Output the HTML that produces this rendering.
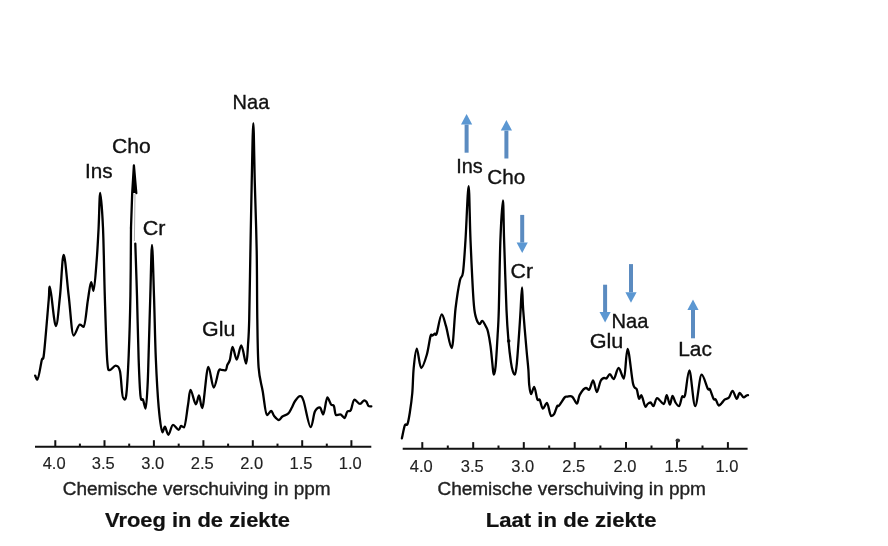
<!DOCTYPE html>
<html><head><meta charset="utf-8"><style>
html,body{margin:0;padding:0;background:#fff;}
body{width:888px;height:546px;overflow:hidden;}
svg{display:block;will-change:transform;}
</style></head><body>
<svg width="888" height="546" viewBox="0 0 888 546">
<rect width="888" height="546" fill="#fff"/>
<path d="M35.20,375.60 C35.58,376.28 36.40,379.70 37.50,379.70 C38.60,379.70 40.72,364.37 41.80,360.00 C42.88,355.63 42.85,363.50 44.00,353.50 C45.15,343.50 47.72,311.13 48.70,300.00 C49.68,288.87 48.72,286.70 49.90,286.70 C51.08,286.70 54.12,326.00 55.80,326.00 C57.48,326.00 58.68,307.87 60.00,296.00 C61.32,284.13 62.25,254.80 63.70,254.80 C65.15,254.80 67.05,282.55 68.70,296.00 C70.35,309.45 71.75,335.50 73.60,335.50 C75.45,335.50 78.10,324.70 79.80,324.70 C81.50,324.70 82.45,326.80 83.80,326.80 C85.15,326.80 86.68,307.43 87.90,300.00 C89.12,292.57 90.15,282.20 91.10,282.20 C92.05,282.20 92.67,290.90 93.60,290.90 C94.53,290.90 95.87,270.48 96.70,260.00 C97.53,249.52 98.02,239.17 98.60,228.00 C99.18,216.83 99.47,193.00 100.20,193.00 C100.93,193.00 102.23,210.83 103.00,228.00 C103.77,245.17 104.10,274.00 104.80,296.00 C105.50,318.00 106.33,347.67 107.20,360.00 C108.07,372.33 108.60,370.00 110.00,370.00 C111.40,370.00 113.93,365.60 115.60,365.60 C117.27,365.60 118.77,365.80 120.00,371.20 C121.23,376.60 121.97,398.00 123.00,398.00 C124.03,398.00 125.25,402.67 126.20,395.50 C127.15,388.33 128.00,371.58 128.70,355.00 C129.40,338.42 130.02,317.17 130.40,296.00 C130.78,274.83 130.90,239.33 131.00,228.00" stroke="#000" stroke-width="2.3" fill="none" stroke-linejoin="round" stroke-linecap="round"/>
<path d="M132.2,193 L133.9,165.5 L136.3,193 Z" stroke="none" fill="#000"/>
<path d="M131,228 L132.2,193 L133.9,165.5 L136.3,193" stroke="#000" stroke-width="2.3" fill="none" stroke-linejoin="round" stroke-linecap="round"/>
<path d="M135.0,194 L134.4,241" stroke="#aaa" stroke-width="1" fill="none"/>
<path d="M135.30,243.60 C135.58,252.33 136.45,276.93 137.00,296.00 C137.55,315.07 138.02,341.33 138.60,358.00 C139.18,374.67 139.77,389.03 140.50,396.00 C141.23,402.97 142.13,397.72 143.00,399.80 C143.87,401.88 144.93,408.50 145.70,408.50 C146.47,408.50 147.12,393.92 147.60,385.00 C148.08,376.08 148.15,369.83 148.60,355.00 C149.05,340.17 149.73,314.33 150.30,296.00 C150.87,277.67 151.38,245.00 152.00,245.00 C152.62,245.00 153.37,277.17 154.00,296.00 C154.63,314.83 155.02,339.43 155.80,358.00 C156.58,376.57 157.60,395.02 158.70,407.40 C159.80,419.78 161.37,432.30 162.40,432.30 C163.43,432.30 163.90,426.70 164.90,426.70 C165.90,426.70 167.05,434.80 168.40,434.80 C169.75,434.80 171.30,424.80 173.00,424.80 C174.70,424.80 177.25,429.80 178.60,429.80 C179.95,429.80 180.17,426.00 181.10,426.00 C182.03,426.00 183.05,427.30 184.20,427.30 C185.35,427.30 186.93,411.25 188.00,405.00 C189.07,398.75 189.30,389.80 190.60,389.80 C191.90,389.80 194.40,404.30 195.80,404.30 C197.20,404.30 197.92,395.50 199.00,395.50 C200.08,395.50 200.75,408.00 202.30,408.00 C203.85,408.00 206.40,366.80 208.30,366.80 C210.20,366.80 211.97,387.50 213.70,387.50 C215.43,387.50 217.45,373.95 218.70,371.00 C219.95,368.05 220.07,369.80 221.20,369.80 C222.33,369.80 224.47,370.40 225.50,370.40 C226.53,370.40 226.67,366.55 227.40,364.80 C228.13,363.05 229.03,362.90 229.90,359.90 C230.77,356.90 231.47,346.80 232.60,346.80 C233.73,346.80 235.25,359.60 236.70,359.60 C238.15,359.60 239.73,345.50 241.30,345.50 C242.87,345.50 244.98,363.60 246.10,363.60 C247.22,363.60 247.48,352.27 248.00,345.00 C248.52,337.73 248.80,335.67 249.20,320.00 C249.60,304.33 249.98,273.83 250.40,251.00 C250.82,228.17 251.22,204.32 251.70,183.00 C252.18,161.68 252.78,123.10 253.30,123.10 C253.82,123.10 254.23,161.68 254.80,183.00 C255.37,204.32 256.28,228.33 256.70,251.00 C257.12,273.67 256.98,299.62 257.30,319.00 C257.62,338.38 257.70,355.27 258.60,367.30 C259.50,379.33 261.32,383.23 262.70,391.20 C264.08,399.17 265.48,415.10 266.90,415.10 C268.32,415.10 270.02,410.90 271.20,410.90 C272.38,410.90 272.72,414.28 274.00,415.80 C275.28,417.32 277.50,420.00 278.90,420.00 C280.30,420.00 280.87,417.55 282.40,416.50 C283.93,415.45 286.57,415.12 288.10,413.70 C289.63,412.28 290.43,410.12 291.60,408.00 C292.77,405.88 293.70,402.98 295.10,401.00 C296.50,399.02 298.58,396.10 300.00,396.10 C301.42,396.10 301.83,395.83 303.60,401.00 C305.37,406.17 308.72,427.10 310.60,427.10 C312.48,427.10 313.37,414.88 314.90,411.60 C316.43,408.32 318.40,407.40 319.80,407.40 C321.20,407.40 322.05,414.40 323.30,414.40 C324.55,414.40 326.00,397.50 327.30,397.50 C328.60,397.50 330.00,403.18 331.10,404.60 C332.20,406.02 333.08,404.25 333.90,406.00 C334.72,407.75 334.93,415.10 336.00,415.10 C337.07,415.10 338.88,414.40 340.30,414.40 C341.72,414.40 343.33,418.00 344.50,418.00 C345.67,418.00 346.25,412.90 347.30,411.60 C348.35,410.30 349.62,412.20 350.80,410.20 C351.98,408.20 352.87,399.60 354.40,399.60 C355.93,399.60 358.37,403.90 360.00,403.90 C361.63,403.90 363.13,400.30 364.20,400.30 C365.27,400.30 365.68,400.75 366.40,401.70 C367.12,402.65 367.68,405.22 368.50,406.00 C369.32,406.78 370.83,406.33 371.30,406.40" stroke="#000" stroke-width="2.3" fill="none" stroke-linejoin="round" stroke-linecap="round"/>
<circle cx="508.7" cy="341" r="1.8" fill="#222"/>
<ellipse cx="677.8" cy="440.5" rx="2.3" ry="2" fill="#333"/>
<path d="M401.90,438.30 C402.40,436.10 403.98,427.43 404.90,425.10 C405.82,422.77 406.58,426.37 407.40,424.30 C408.22,422.23 408.98,417.92 409.80,412.70 C410.62,407.48 411.65,400.45 412.30,393.00 C412.95,385.55 412.95,375.40 413.70,368.00 C414.45,360.60 415.55,348.60 416.80,348.60 C418.05,348.60 419.53,368.00 421.20,368.00 C422.87,368.00 425.25,360.12 426.80,354.80 C428.35,349.48 429.57,339.32 430.50,336.10 C431.43,332.88 431.67,335.92 432.40,335.50 C433.13,335.08 434.18,333.92 434.90,333.60 C435.62,333.28 435.57,336.82 436.70,333.60 C437.83,330.38 440.15,314.30 441.70,314.30 C443.25,314.30 444.33,320.58 446.00,326.20 C447.67,331.82 450.10,348.00 451.70,348.00 C453.30,348.00 454.23,319.25 455.60,308.00 C456.97,296.75 458.67,286.43 459.90,280.50 C461.13,274.57 462.07,279.15 463.00,272.40 C463.93,265.65 464.57,254.37 465.50,240.00 C466.43,225.63 467.77,186.20 468.60,186.20 C469.43,186.20 469.68,221.03 470.50,240.00 C471.32,258.97 472.62,287.17 473.50,300.00 C474.38,312.83 474.78,312.98 475.80,317.00 C476.82,321.02 478.53,324.10 479.60,324.10 C480.67,324.10 481.13,320.90 482.20,320.90 C483.27,320.90 485.03,324.88 486.00,326.70 C486.97,328.52 487.25,328.60 488.00,331.80 C488.75,335.00 489.77,340.57 490.50,345.90 C491.23,351.23 491.87,359.00 492.40,363.80 C492.93,368.60 493.17,374.70 493.70,374.70 C494.23,374.70 494.95,372.92 495.60,366.40 C496.25,359.88 497.07,345.00 497.60,335.60 C498.13,326.20 498.33,325.93 498.80,310.00 C499.27,294.07 499.72,258.25 500.40,240.00 C501.08,221.75 502.28,200.50 502.90,200.50 C503.52,200.50 503.50,221.75 504.10,240.00 C504.70,258.25 505.77,293.20 506.50,310.00 C507.23,326.80 507.75,332.03 508.50,340.80 C509.25,349.57 510.27,357.48 511.00,362.60 C511.73,367.72 512.25,369.48 512.90,371.50 C513.55,373.52 514.25,374.70 514.90,374.70 C515.55,374.70 516.05,371.38 516.80,363.80 C517.55,356.22 518.77,338.17 519.40,329.20 C520.03,320.23 520.17,316.98 520.60,310.00 C521.03,303.02 521.57,287.30 522.00,287.30 C522.43,287.30 522.47,299.80 523.20,310.00 C523.93,320.20 525.53,338.50 526.40,348.50 C527.27,358.50 527.93,363.93 528.40,370.00 C528.87,376.07 528.75,380.87 529.20,384.90 C529.65,388.93 530.27,394.20 531.10,394.20 C531.93,394.20 533.17,386.80 534.20,386.80 C535.23,386.80 536.37,397.02 537.30,399.20 C538.23,401.38 538.87,398.33 539.80,399.90 C540.73,401.47 541.70,408.60 542.90,408.60 C544.10,408.60 545.65,403.00 547.00,403.00 C548.35,403.00 549.82,416.00 551.00,416.00 C552.18,416.00 553.07,415.85 554.10,414.20 C555.13,412.55 556.37,407.55 557.20,406.10 C558.03,404.65 557.85,406.95 559.10,405.50 C560.35,404.05 563.35,398.87 564.70,397.40 C566.05,395.93 565.95,396.82 567.20,396.70 C568.45,396.58 570.58,395.55 572.20,396.70 C573.82,397.85 575.65,403.60 576.90,403.60 C578.15,403.60 578.20,397.50 579.70,394.90 C581.20,392.30 584.35,388.00 585.90,388.00 C587.45,388.00 587.80,389.90 589.00,389.90 C590.20,389.90 591.80,380.50 593.10,380.50 C594.40,380.50 595.55,392.00 596.80,392.00 C598.05,392.00 599.35,383.33 600.60,381.00 C601.85,378.67 603.37,378.00 604.30,378.00 C605.23,378.00 605.27,378.60 606.20,378.60 C607.13,378.60 608.65,374.20 609.90,374.20 C611.15,374.20 612.25,379.20 613.70,379.20 C615.15,379.20 616.90,368.00 618.60,368.00 C620.30,368.00 622.40,378.60 623.90,378.60 C625.40,378.60 626.08,348.90 627.60,348.90 C629.12,348.90 631.48,376.78 633.00,383.50 C634.52,390.22 635.68,386.63 636.70,389.20 C637.72,391.77 638.32,398.90 639.10,398.90 C639.88,398.90 640.35,395.20 641.40,395.20 C642.45,395.20 644.37,406.90 645.40,406.90 C646.43,406.90 646.75,404.73 647.60,404.00 C648.45,403.27 649.52,402.50 650.50,402.50 C651.48,402.50 652.40,406.20 653.50,406.20 C654.60,406.20 655.40,398.10 657.10,398.10 C658.80,398.10 662.10,404.00 663.70,404.00 C665.30,404.00 665.67,395.20 666.70,395.20 C667.73,395.20 668.93,404.70 669.90,404.70 C670.87,404.70 671.57,395.90 672.50,395.90 C673.43,395.90 674.40,400.78 675.50,402.50 C676.60,404.22 678.00,406.20 679.10,406.20 C680.20,406.20 681.12,398.53 682.10,396.70 C683.08,394.87 683.78,399.58 685.00,395.20 C686.22,390.82 687.70,370.40 689.40,370.40 C691.10,370.40 693.17,406.20 695.20,406.20 C697.23,406.20 699.52,374.70 701.60,374.70 C703.68,374.70 706.32,386.17 707.70,388.60 C709.08,391.03 708.92,387.58 709.90,389.30 C710.88,391.02 712.62,397.18 713.60,398.90 C714.58,400.62 714.95,398.50 715.80,399.60 C716.65,400.70 717.73,405.50 718.70,405.50 C719.67,405.50 720.62,404.28 721.60,403.30 C722.58,402.32 723.37,400.58 724.60,399.60 C725.83,398.62 727.67,398.87 729.00,397.40 C730.33,395.93 731.32,390.80 732.60,390.80 C733.88,390.80 735.52,398.90 736.70,398.90 C737.88,398.90 738.55,393.00 739.70,393.00 C740.85,393.00 742.45,397.40 743.60,397.40 C744.75,397.40 745.87,395.87 746.60,395.50 C747.33,395.13 747.77,395.25 748.00,395.20" stroke="#000" stroke-width="2.3" fill="none" stroke-linejoin="round" stroke-linecap="round"/>
<path d="M35,446.8 H371.3" stroke="#111" stroke-width="2" fill="none"/><path d="M55.3,440.2 V446.8" stroke="#111" stroke-width="2" fill="none"/><path d="M104.5,440.2 V446.8" stroke="#111" stroke-width="2" fill="none"/><path d="M153.9,440.2 V446.8" stroke="#111" stroke-width="2" fill="none"/><path d="M203.4,440.2 V446.8" stroke="#111" stroke-width="2" fill="none"/><path d="M252.8,440.2 V446.8" stroke="#111" stroke-width="2" fill="none"/><path d="M302.2,440.2 V446.8" stroke="#111" stroke-width="2" fill="none"/><path d="M351.4,440.2 V446.8" stroke="#111" stroke-width="2" fill="none"/><path d="M79.9,443.6 V446.8" stroke="#111" stroke-width="2" fill="none"/><path d="M129.2,443.6 V446.8" stroke="#111" stroke-width="2" fill="none"/><path d="M178.7,443.6 V446.8" stroke="#111" stroke-width="2" fill="none"/><path d="M228.1,443.6 V446.8" stroke="#111" stroke-width="2" fill="none"/><path d="M277.5,443.6 V446.8" stroke="#111" stroke-width="2" fill="none"/><path d="M326.8,443.6 V446.8" stroke="#111" stroke-width="2" fill="none"/>
<path d="M402.7,448.7 H747.6" stroke="#111" stroke-width="2" fill="none"/><path d="M422.3,442.09999999999997 V448.7" stroke="#111" stroke-width="2" fill="none"/><path d="M473.2,442.09999999999997 V448.7" stroke="#111" stroke-width="2" fill="none"/><path d="M523.8,442.09999999999997 V448.7" stroke="#111" stroke-width="2" fill="none"/><path d="M574.7,442.09999999999997 V448.7" stroke="#111" stroke-width="2" fill="none"/><path d="M626.0,442.09999999999997 V448.7" stroke="#111" stroke-width="2" fill="none"/><path d="M677.0,442.09999999999997 V448.7" stroke="#111" stroke-width="2" fill="none"/><path d="M727.9,442.09999999999997 V448.7" stroke="#111" stroke-width="2" fill="none"/><path d="M447.8,445.5 V448.7" stroke="#111" stroke-width="2" fill="none"/><path d="M498.5,445.5 V448.7" stroke="#111" stroke-width="2" fill="none"/><path d="M549.2,445.5 V448.7" stroke="#111" stroke-width="2" fill="none"/><path d="M600.4,445.5 V448.7" stroke="#111" stroke-width="2" fill="none"/><path d="M651.5,445.5 V448.7" stroke="#111" stroke-width="2" fill="none"/><path d="M702.5,445.5 V448.7" stroke="#111" stroke-width="2" fill="none"/>
<text x="54.1" y="468.9" font-family="Liberation Sans, sans-serif" font-size="16.5" fill="#222" stroke="#222" stroke-width="0.15" text-anchor="middle">4.0</text>
<text x="103.3" y="468.9" font-family="Liberation Sans, sans-serif" font-size="16.5" fill="#222" stroke="#222" stroke-width="0.15" text-anchor="middle">3.5</text>
<text x="152.7" y="468.9" font-family="Liberation Sans, sans-serif" font-size="16.5" fill="#222" stroke="#222" stroke-width="0.15" text-anchor="middle">3.0</text>
<text x="202.2" y="468.9" font-family="Liberation Sans, sans-serif" font-size="16.5" fill="#222" stroke="#222" stroke-width="0.15" text-anchor="middle">2.5</text>
<text x="251.6" y="468.9" font-family="Liberation Sans, sans-serif" font-size="16.5" fill="#222" stroke="#222" stroke-width="0.15" text-anchor="middle">2.0</text>
<text x="301.0" y="468.9" font-family="Liberation Sans, sans-serif" font-size="16.5" fill="#222" stroke="#222" stroke-width="0.15" text-anchor="middle">1.5</text>
<text x="350.2" y="468.9" font-family="Liberation Sans, sans-serif" font-size="16.5" fill="#222" stroke="#222" stroke-width="0.15" text-anchor="middle">1.0</text>
<text x="421.3" y="471.5" font-family="Liberation Sans, sans-serif" font-size="16.5" fill="#222" stroke="#222" stroke-width="0.15" text-anchor="middle">4.0</text>
<text x="472.2" y="471.5" font-family="Liberation Sans, sans-serif" font-size="16.5" fill="#222" stroke="#222" stroke-width="0.15" text-anchor="middle">3.5</text>
<text x="522.8" y="471.5" font-family="Liberation Sans, sans-serif" font-size="16.5" fill="#222" stroke="#222" stroke-width="0.15" text-anchor="middle">3.0</text>
<text x="573.7" y="471.5" font-family="Liberation Sans, sans-serif" font-size="16.5" fill="#222" stroke="#222" stroke-width="0.15" text-anchor="middle">2.5</text>
<text x="625.0" y="471.5" font-family="Liberation Sans, sans-serif" font-size="16.5" fill="#222" stroke="#222" stroke-width="0.15" text-anchor="middle">2.0</text>
<text x="676.0" y="471.5" font-family="Liberation Sans, sans-serif" font-size="16.5" fill="#222" stroke="#222" stroke-width="0.15" text-anchor="middle">1.5</text>
<text x="726.9" y="471.5" font-family="Liberation Sans, sans-serif" font-size="16.5" fill="#222" stroke="#222" stroke-width="0.15" text-anchor="middle">1.0</text>
<text x="62.7" y="495.2" font-family="Liberation Sans, sans-serif" font-size="18" font-weight="normal" fill="#222" stroke="#222" stroke-width="0.35" textLength="268" lengthAdjust="spacingAndGlyphs">Chemische verschuiving in ppm</text>
<text x="437.4" y="495.2" font-family="Liberation Sans, sans-serif" font-size="18" font-weight="normal" fill="#222" stroke="#222" stroke-width="0.35" textLength="268.5" lengthAdjust="spacingAndGlyphs">Chemische verschuiving in ppm</text>
<text x="105" y="527" font-family="Liberation Sans, sans-serif" font-size="20" font-weight="bold" fill="#111" stroke="#111" stroke-width="0.2" textLength="185" lengthAdjust="spacingAndGlyphs">Vroeg in de ziekte</text>
<text x="485.8" y="527" font-family="Liberation Sans, sans-serif" font-size="20" font-weight="bold" fill="#111" stroke="#111" stroke-width="0.2" textLength="170.7" lengthAdjust="spacingAndGlyphs">Laat in de ziekte</text>
<text x="232.6" y="108.8" font-family="Liberation Sans, sans-serif" font-size="21" font-weight="normal" fill="#111" stroke="#111" stroke-width="0.35" textLength="36.7" lengthAdjust="spacingAndGlyphs">Naa</text>
<text x="111.9" y="153.0" font-family="Liberation Sans, sans-serif" font-size="21" font-weight="normal" fill="#111" stroke="#111" stroke-width="0.35" textLength="38.8" lengthAdjust="spacingAndGlyphs">Cho</text>
<text x="85.1" y="177.6" font-family="Liberation Sans, sans-serif" font-size="21" font-weight="normal" fill="#111" stroke="#111" stroke-width="0.35" textLength="27.600000000000012" lengthAdjust="spacingAndGlyphs">Ins</text>
<text x="142.7" y="235.0" font-family="Liberation Sans, sans-serif" font-size="21" font-weight="normal" fill="#111" stroke="#111" stroke-width="0.35" textLength="22.700000000000006" lengthAdjust="spacingAndGlyphs">Cr</text>
<text x="202.0" y="336.3" font-family="Liberation Sans, sans-serif" font-size="21" font-weight="normal" fill="#111" stroke="#111" stroke-width="0.35" textLength="33.3" lengthAdjust="spacingAndGlyphs">Glu</text>
<text x="456.3" y="172.5" font-family="Liberation Sans, sans-serif" font-size="21" font-weight="normal" fill="#111" stroke="#111" stroke-width="0.35" textLength="26.49999999999999" lengthAdjust="spacingAndGlyphs">Ins</text>
<text x="487.3" y="184.0" font-family="Liberation Sans, sans-serif" font-size="21" font-weight="normal" fill="#111" stroke="#111" stroke-width="0.35" textLength="37.999999999999986" lengthAdjust="spacingAndGlyphs">Cho</text>
<text x="510.5" y="278.0" font-family="Liberation Sans, sans-serif" font-size="21" font-weight="normal" fill="#111" stroke="#111" stroke-width="0.35" textLength="22.500000000000046" lengthAdjust="spacingAndGlyphs">Cr</text>
<text x="589.7" y="348.1" font-family="Liberation Sans, sans-serif" font-size="21" font-weight="normal" fill="#111" stroke="#111" stroke-width="0.35" textLength="33.699999999999974" lengthAdjust="spacingAndGlyphs">Glu</text>
<text x="611.5" y="327.6" font-family="Liberation Sans, sans-serif" font-size="21" font-weight="normal" fill="#111" stroke="#111" stroke-width="0.35" textLength="36.90000000000002" lengthAdjust="spacingAndGlyphs">Naa</text>
<text x="678.2" y="355.7" font-family="Liberation Sans, sans-serif" font-size="21" font-weight="normal" fill="#111" stroke="#111" stroke-width="0.35" textLength="33.699999999999974" lengthAdjust="spacingAndGlyphs">Lac</text>
<path d="M464.6,124.5 V152.7 H468.6 V124.5 Z" fill="#5b8bc0"/><path d="M466.6,114 L472.20000000000005,124.5 L461.0,124.5 Z" fill="#5b97d2"/>
<path d="M504.4,130.6 V158.5 H508.4 V130.6 Z" fill="#5b8bc0"/><path d="M506.4,120.1 L512.0,130.6 L500.79999999999995,130.6 Z" fill="#5b97d2"/>
<path d="M520.2,214.9 V242.6 H524.2 V214.9 Z" fill="#5b8bc0"/><path d="M522.2,253.1 L527.8000000000001,242.6 L516.6,242.6 Z" fill="#5b97d2"/>
<path d="M603.1,284.7 V312.1 H607.1 V284.7 Z" fill="#5b8bc0"/><path d="M605.1,322.6 L610.7,312.1 L599.5,312.1 Z" fill="#5b97d2"/>
<path d="M629.0,264.1 V292.3 H633.0 V264.1 Z" fill="#5b8bc0"/><path d="M631.0,302.8 L636.6,292.3 L625.4,292.3 Z" fill="#5b97d2"/>
<path d="M691.0,310.0 V338.3 H695.0 V310.0 Z" fill="#5b8bc0"/><path d="M693.0,299.5 L698.6,310.0 L687.4,310.0 Z" fill="#5b97d2"/>
</svg>
</body></html>
